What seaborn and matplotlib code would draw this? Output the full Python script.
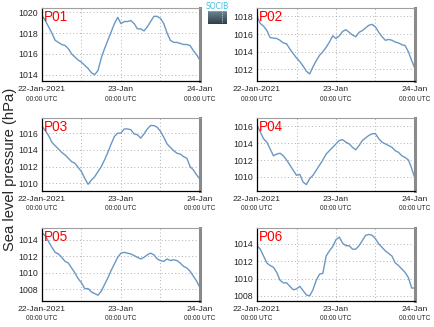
import numpy as np
import pandas as pd
import matplotlib
matplotlib.use("Agg")
import matplotlib.pyplot as plt
import seaborn as sns

hours = list(range(49))
stations = ["P01", "P02", "P03", "P04", "P05", "P06"]

p01 = [1019.7, 1019.2, 1018.6, 1018.0, 1017.3, 1017.1, 1016.9, 1016.8, 1016.5, 1016.0,
       1015.7, 1015.4, 1015.2, 1014.9, 1014.6, 1014.2, 1014.0, 1014.4, 1015.6, 1016.5,
       1017.3, 1018.1, 1018.9, 1019.5, 1018.9, 1019.1, 1019.1, 1019.2, 1018.9, 1018.4,
       1018.4, 1018.2, 1018.6, 1019.1, 1019.6, 1019.6, 1019.4, 1018.9, 1018.0, 1017.3,
       1017.1, 1017.1, 1017.0, 1016.9, 1016.9, 1016.8, 1016.3, 1015.9, 1015.4]
p02 = [1018.0, 1017.2, 1016.9, 1016.4, 1015.6, 1015.55, 1015.5, 1015.3, 1015.0, 1014.9,
       1014.3, 1013.8, 1013.3, 1012.9, 1012.4, 1011.8, 1011.5, 1012.3, 1013.0, 1013.6,
       1014.0, 1014.5, 1015.1, 1015.8, 1015.5, 1015.8, 1016.3, 1016.5, 1016.2, 1015.9,
       1015.7, 1016.2, 1016.4, 1016.7, 1017.0, 1017.1, 1016.8, 1016.2, 1015.7, 1015.3,
       1015.4, 1015.3, 1015.1, 1015.0, 1014.8, 1014.7, 1014.0, 1013.0, 1012.1]
p03 = [1016.8, 1016.3, 1015.7, 1014.9, 1014.5, 1014.1, 1013.7, 1013.4, 1013.0, 1012.6,
       1012.4, 1011.9, 1011.4, 1010.6, 1009.9, 1010.4, 1010.8, 1011.4, 1012.0, 1012.8,
       1013.7, 1014.7, 1015.6, 1016.0, 1016.0, 1016.5, 1016.5, 1016.4, 1015.9, 1015.8,
       1015.4, 1015.9, 1016.5, 1016.9, 1016.9, 1016.7, 1016.2, 1015.5, 1014.7, 1014.3,
       1013.9, 1013.6, 1013.5, 1013.2, 1013.0, 1012.0, 1011.6, 1011.0, 1010.5]
p04 = [1016.1, 1015.3, 1014.5, 1014.1, 1013.3, 1012.5, 1012.7, 1012.8, 1012.5, 1012.0,
       1011.4, 1010.8, 1010.2, 1010.3, 1009.4, 1009.1, 1009.8, 1010.2, 1010.8, 1011.4,
       1012.0, 1012.7, 1013.1, 1013.5, 1013.9, 1014.3, 1014.4, 1014.1, 1013.9, 1013.5,
       1013.2, 1013.7, 1014.3, 1014.6, 1014.9, 1015.1, 1015.1, 1014.5, 1014.1, 1013.9,
       1013.7, 1013.5, 1013.1, 1012.9, 1012.5, 1012.3, 1012.0, 1011.0, 1009.8]
p05 = [1014.9, 1014.5, 1013.8, 1013.1, 1012.5, 1012.3, 1011.9, 1011.4, 1011.2, 1010.6,
       1010.0, 1009.3, 1008.8, 1008.1, 1008.1, 1007.7, 1007.5, 1007.3, 1007.8, 1008.6,
       1009.4, 1010.3, 1011.1, 1011.9, 1012.4, 1012.5, 1012.4, 1012.3, 1012.1, 1011.9,
       1011.7, 1011.9, 1012.2, 1012.4, 1012.2, 1011.7, 1011.5, 1011.4, 1011.7, 1011.5,
       1011.6, 1011.5, 1011.2, 1010.8, 1010.6, 1010.2, 1009.6, 1009.0, 1008.2]
p06 = [1013.8, 1013.4, 1012.6, 1011.8, 1011.5, 1011.3, 1010.7, 1009.8, 1009.5, 1009.5,
       1009.1, 1008.7, 1008.8, 1009.1, 1008.6, 1008.1, 1008.0, 1008.7, 1009.8, 1010.5,
       1010.6, 1012.6, 1013.2, 1013.7, 1014.5, 1014.8, 1014.1, 1013.8, 1013.8, 1013.4,
       1013.4, 1013.8, 1014.4, 1015.0, 1015.1, 1015.0, 1014.6, 1014.0, 1013.6, 1013.2,
       1012.9, 1012.6, 1011.8, 1011.5, 1011.1, 1010.7, 1010.1, 1008.9, 1008.9]

series = [p01, p02, p03, p04, p05, p06]
ylims = [(1013.4, 1020.4), (1010.7, 1018.95), (1009.1, 1017.8),
         (1008.35, 1016.95), (1006.6, 1015.45), (1007.4, 1015.85)]
yticks = [[1014, 1016, 1018, 1020], [1012, 1014, 1016, 1018], [1010, 1012, 1014, 1016],
          [1010, 1012, 1014, 1016], [1008, 1010, 1012, 1014], [1008, 1010, 1012, 1014]]
xtick_pos = [0, 24, 48]
xtick_top = ["22-Jan-2021", "23-Jan", "24-Jan"]
xtick_bottom = ["00:00 UTC", "00:00 UTC", "00:00 UTC"]
ylabel = "Sea level pressure (hPa)"

sns.set_style("white")
plt.rcParams['font.family'] = ['Liberation Sans', 'DejaVu Sans']

fig = plt.figure(figsize=(4.35, 3.27), dpi=100)
W, H = 435.0, 327.0
lefts = [42, 257]
tops = [8, 118, 228]
aw, ah = 158, 73
line_color = "#6a98c4"

for i, (name, vals) in enumerate(zip(stations, series)):
    r, c = divmod(i, 2)
    ax = fig.add_axes([lefts[c] / W, 1 - (tops[r] + ah) / H, aw / W, ah / H])
    df = pd.DataFrame({"hour": hours, "slp": vals})
    sns.lineplot(data=df, x="hour", y="slp", ax=ax, color=line_color, linewidth=1.0)
    ax.set_xlim(0, 48)
    ax.set_ylim(*ylims[i])
    ax.set_yticks(yticks[i])
    ax.set_yticklabels([str(t) for t in yticks[i]], fontsize=6.3)
    ax.set_xticks([0, 12, 24, 36, 48])
    ax.set_xticklabels([])
    ax.tick_params(length=0, pad=3)
    ax.grid(True, linestyle=(0, (1, 2.5)), color="#b0b0b0", linewidth=0.7)
    ax.set_xlabel("")
    ax.set_ylabel("")
    for s in ["left", "bottom"]:
        ax.spines[s].set_color("black")
        ax.spines[s].set_linewidth(0.9)
    ax.spines["top"].set_color("#a0a0a0")
    ax.spines["top"].set_linewidth(0.8)
    ax.spines["right"].set_color("#8a8a8a")
    ax.spines["right"].set_linewidth(2.2)
    ax.text(0.012, 0.97, name, transform=ax.transAxes, color="red", fontsize=9.8,
            va="top", ha="left")
    trans = ax.get_xaxis_transform()
    for xp, t1, t2 in zip(xtick_pos, xtick_top, xtick_bottom):
        ax.text(xp, -8.5 / ah, t1, transform=trans, ha="center", va="center", fontsize=6.1)
        ax.text(xp, -18 / ah, t2, transform=trans, ha="center", va="center", fontsize=4.7)

fig.text(10 / W, 1 - 169 / H, ylabel, rotation=90, ha="center", va="center", fontsize=10.6)

# small logo
lax = fig.add_axes([208 / W, 1 - 24 / H, 19 / W, 21 / H])
grad = np.linspace(0, 1, 50).reshape(-1, 1)
lax.imshow(grad, aspect="auto", cmap=matplotlib.colors.LinearSegmentedColormap.from_list(
    "logo", ["#8fb0bf", "#2f3f4a"]), extent=(0, 1, 0, 1))
lax.add_patch(plt.Rectangle((0, 0.68), 1, 0.32, color="white", zorder=2))
lax.text(0.5, 0.85, "SOCIB", color="#3cc0dc", fontsize=5.5, ha="center", va="center",
         zorder=3, family="Liberation Sans Narrow")
lax.plot([0.75, 0.75], [0.1, 0.6], color="white", linestyle=(0, (1, 1.5)), linewidth=0.6)
lax.set_xlim(0, 1)
lax.set_ylim(0, 1)
lax.axis("off")

fig.savefig("out.png", dpi=100)
